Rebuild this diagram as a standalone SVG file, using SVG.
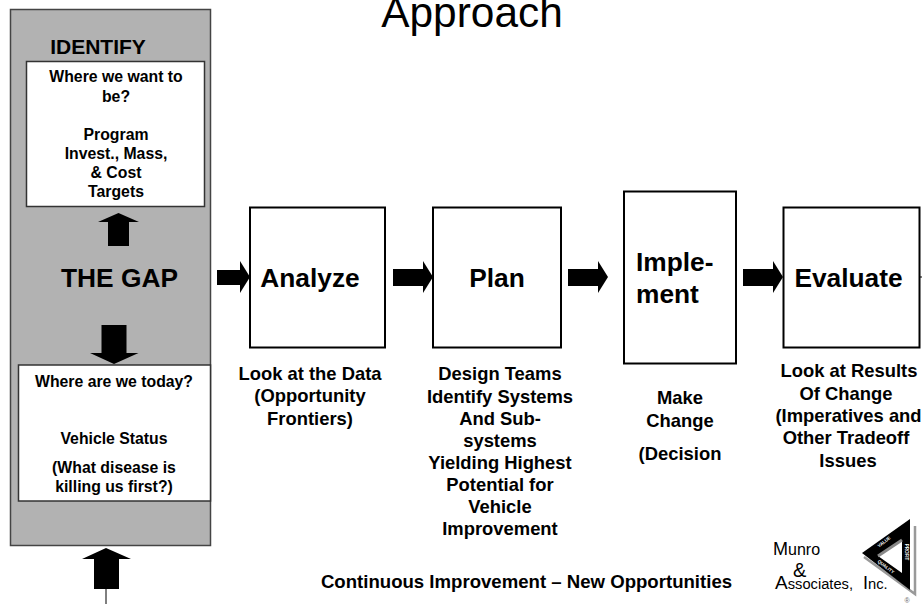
<svg xmlns="http://www.w3.org/2000/svg" width="922" height="604" viewBox="0 0 922 604">
<style>
text{font-family:"Liberation Sans",Arial,sans-serif;fill:#000;text-anchor:middle}
.b{font-weight:bold}
.s{font-size:15.800px;font-weight:bold}
.l{font-size:18.400px;font-weight:bold}
.m{font-size:26.300px;font-weight:bold}
.st{text-anchor:start}
.box{fill:#fff;stroke:#000;stroke-width:2}
.inner{fill:#fff;stroke:#333;stroke-width:1.500}
.ar{fill:#000}
.tiny{font-size:4.500px;font-weight:bold;fill:#fff}
</style>
<rect width="922" height="604" fill="#fff"/>
<text id="title" x="472" y="27" font-size="42.400">Approach</text>
<g id="gap-panel">
<rect x="10.500" y="9.500" width="200" height="536" fill="#b2b2b2" stroke="#444" stroke-width="1.500"/>
<text x="98" y="54" class="b" font-size="21">IDENTIFY</text>
<text x="119.500" y="287" class="m">THE GAP</text>
</g>
<g id="identify-box">
<rect class="inner" x="26.500" y="61.500" width="178" height="145"/>
<text class="s" x="116" y="82">Where we want to</text>
<text class="s" x="116" y="102">be?</text>
<text class="s" x="116" y="140">Program</text>
<text class="s" x="116" y="159">Invest., Mass,</text>
<text class="s" x="116" y="178">&amp; Cost</text>
<text class="s" x="116" y="197">Targets</text>
</g>
<g id="today-box">
<rect class="inner" x="18.500" y="365" width="192" height="136"/>
<text class="s" x="114" y="387">Where are we today?</text>
<text class="s" x="114" y="444">Vehicle Status</text>
<text class="s" x="114" y="473">(What disease is</text>
<text class="s" x="114" y="492">killing us first?)</text>
</g>
<g id="analyze">
<rect class="box" x="250" y="207.500" width="135" height="140"/>
<text class="m" x="310" y="287">Analyze</text>
<text class="l" x="310" y="380">Look at the Data</text>
<text class="l" x="310" y="402">(Opportunity</text>
<text class="l" x="310" y="425">Frontiers)</text>
</g>
<g id="plan">
<rect class="box" x="433" y="207.500" width="128" height="140"/>
<text class="m" x="497" y="287">Plan</text>
<text class="l" x="500" y="380">Design Teams</text>
<text class="l" x="500" y="403">Identify Systems</text>
<text class="l" x="500" y="425">And Sub-</text>
<text class="l" x="500" y="447">systems</text>
<text class="l" x="500" y="469">Yielding Highest</text>
<text class="l" x="500" y="491">Potential for</text>
<text class="l" x="500" y="513">Vehicle</text>
<text class="l" x="500" y="535">Improvement</text>
</g>
<g id="implement">
<rect class="box" x="624" y="191.500" width="112" height="172"/>
<text class="m st" x="636" y="271">Imple-</text>
<text class="m st" x="636" y="303">ment</text>
<text class="l" x="680" y="404">Make</text>
<text class="l" x="680" y="427">Change</text>
<text class="l" x="680" y="460">(Decision</text>
</g>
<g id="evaluate">
<rect class="box" x="783.500" y="207.500" width="136" height="140"/>
<text class="m" x="848.500" y="287">Evaluate</text>
<text class="l" x="849" y="377">Look at Results</text>
<text class="l" x="846" y="400">Of Change</text>
<text class="l" x="848.500" y="422">(Imperatives and</text>
<text class="l" x="846" y="444">Other Tradeoff</text>
<text class="l" x="848" y="467">Issues</text>
</g>
<g id="connectors">
<path class="ar" d="M108 246V222H98L118.500 213L139 222H129V246Z"/>
<path class="ar" d="M101.500 325H126.500V353H138.500L114 364L90 353H101.500Z"/>
<path class="ar" d="M94 589V559H82L106 548L131 559H119V589Z"/>
<path d="M106 589V604" stroke="#000" stroke-width="1"/>
<path class="ar" d="M217 270H240V261L250 277L240 293V285H217Z"/>
<path class="ar" d="M393 269H423V261L433 277L423 293V286H393Z"/>
<path class="ar" d="M568 269H598V261L608 277L598 293V286H568Z"/>
<path class="ar" d="M743 269H773V261L783 277L773 293V286H743Z"/>
<path d="M920 277H922" stroke="#000" stroke-width="1"/>
</g>
<text id="footer" class="l" x="526.500" y="588" style="font-size:18.600px">Continuous Improvement – New Opportunities</text>
<g id="logo">
<text class="st" x="773" y="555" font-size="16"><tspan font-size="18">M</tspan>unro</text>
<text class="st" x="793" y="577" font-size="20">&amp;</text>
<text class="st" x="775" y="589" font-size="14.700"><tspan font-size="19">A</tspan>ssociates,<tspan x="863" font-size="18">I</tspan>nc.</text>
<path d="M864 557L915 594V526" fill="none" stroke="#999" stroke-width="2.500"/>
<path d="M862 553L910 519V590Z" fill="#000"/>
<path d="M878 556L902 540V573Z" fill="#fff"/>
<path d="M878 556L902 540" stroke="#888" stroke-width="3" fill="none"/>
<text x="885" y="543" class="tiny" transform="rotate(-38 885 543)">VALUE</text>
<text x="905" y="552" class="tiny" transform="rotate(90 905 552)">PROFIT</text>
<text x="885" y="568" class="tiny" transform="rotate(38 885 568)">QUALITY</text>
<text x="907" y="603" font-size="7" style="fill:#666">®</text>
</g>
</svg>
